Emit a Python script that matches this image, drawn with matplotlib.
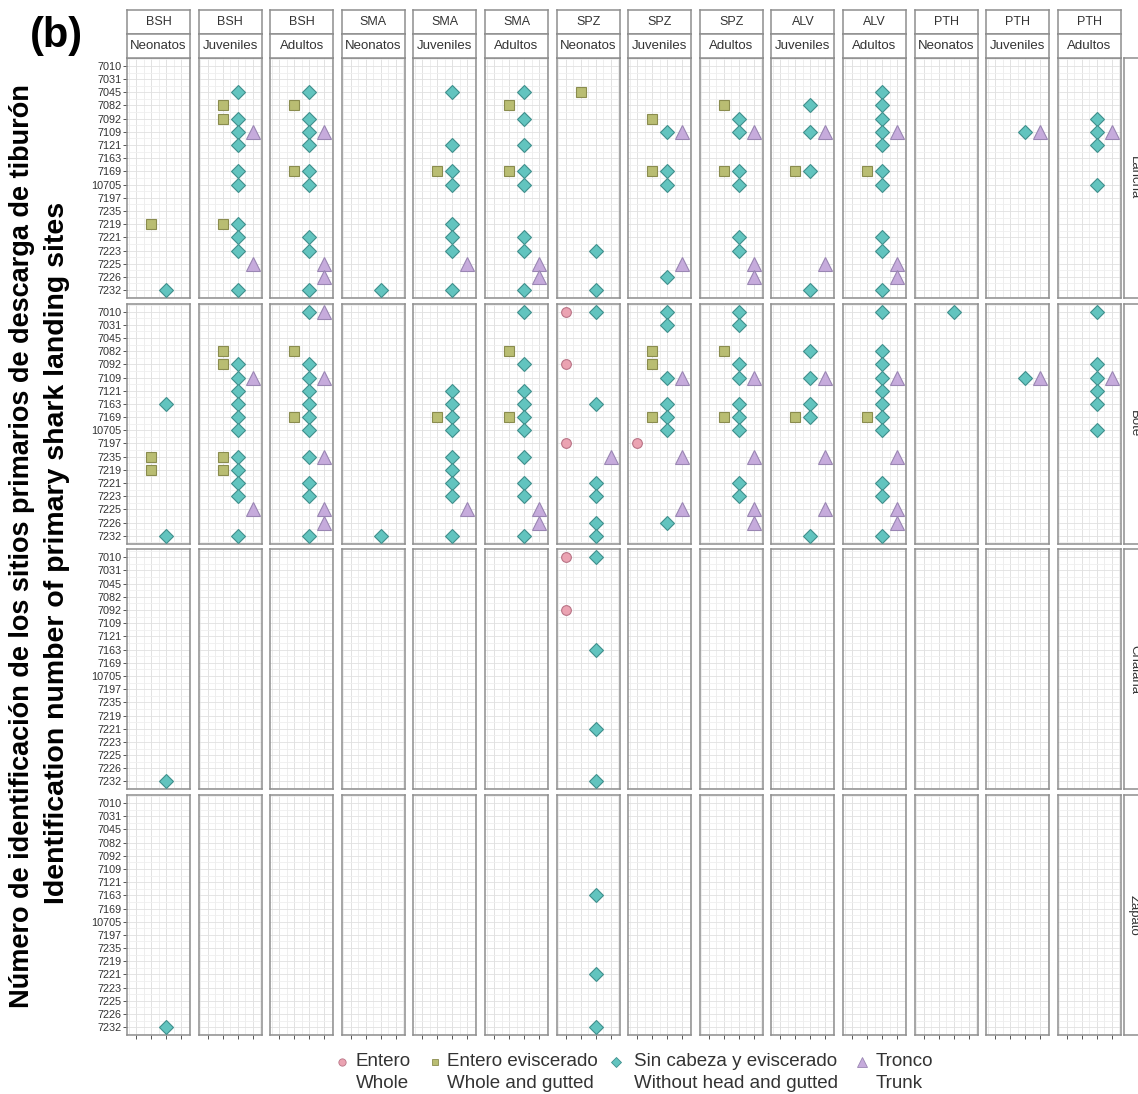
import matplotlib
matplotlib.use("Agg")
import matplotlib.pyplot as plt
import numpy as np

plt.rcParams["font.family"] = ["Liberation Sans", "DejaVu Sans"]

# ---- data ----
SITES = [7010, 7031, 7045, 7082, 7092, 7109, 7121, 7163, 7169, 10705,
         7197, 7235, 7219, 7221, 7223, 7225, 7226, 7232]
SPECIES = ["BSH", "BSH", "BSH", "SMA", "SMA", "SMA", "SPZ", "SPZ", "SPZ",
           "ALV", "ALV", "PTH", "PTH", "PTH"]
STAGES = ["Neonatos", "Juveniles", "Adultos", "Neonatos", "Juveniles", "Adultos",
          "Neonatos", "Juveniles", "Adultos", "Juveniles", "Adultos",
          "Neonatos", "Juveniles", "Adultos"]
FLEETS = ["Lancha", "Bote", "Chalana", "Zapato"]
PRODUCTS = ["E", "EE", "SC", "T"]
PRODUCT_ES = ["Entero", "Entero eviscerado", "Sin cabeza y eviscerado", "Tronco"]
PRODUCT_EN = ["Whole", "Whole and gutted", "Without head and gutted", "Trunk"]

LANCHA = {
    "BSH Neonatos": {"EE": [7219], "SC": [7232]},
    "BSH Juveniles": {"EE": [7082, 7092, 7219],
                      "SC": [7045, 7092, 7109, 7121, 7169, 10705, 7219, 7221, 7223, 7232],
                      "T": [7109, 7225]},
    "BSH Adultos": {"EE": [7082, 7169],
                    "SC": [7045, 7092, 7109, 7121, 7169, 10705, 7221, 7223, 7232],
                    "T": [7109, 7225, 7226]},
    "SMA Neonatos": {"SC": [7232]},
    "SMA Juveniles": {"EE": [7169],
                      "SC": [7045, 7121, 7169, 10705, 7219, 7221, 7223, 7232],
                      "T": [7225]},
    "SMA Adultos": {"EE": [7082, 7169],
                    "SC": [7045, 7092, 7121, 7169, 10705, 7221, 7223, 7232],
                    "T": [7225, 7226]},
    "SPZ Neonatos": {"EE": [7045], "SC": [7223, 7232]},
    "SPZ Juveniles": {"EE": [7092, 7169], "SC": [7109, 7169, 10705, 7226],
                      "T": [7109, 7225]},
    "SPZ Adultos": {"EE": [7082, 7169], "SC": [7092, 7109, 7169, 10705, 7221, 7223],
                    "T": [7109, 7225, 7226]},
    "ALV Juveniles": {"EE": [7169], "SC": [7082, 7109, 7169, 7232], "T": [7109, 7225]},
    "ALV Adultos": {"EE": [7169],
                    "SC": [7045, 7082, 7092, 7109, 7121, 7169, 10705, 7221, 7223, 7232],
                    "T": [7109, 7225, 7226]},
    "PTH Juveniles": {"SC": [7109], "T": [7109]},
    "PTH Adultos": {"SC": [7092, 7109, 7121, 10705], "T": [7109]},
}

BOTE = {
    "BSH Neonatos": {"EE": [7235, 7219], "SC": [7163, 7232]},
    "BSH Juveniles": {"EE": [7082, 7092, 7235, 7219],
                      "SC": [7092, 7109, 7121, 7163, 7169, 10705, 7235, 7219, 7221, 7223, 7232],
                      "T": [7109, 7225]},
    "BSH Adultos": {"EE": [7082, 7169],
                    "SC": [7010, 7092, 7109, 7121, 7163, 7169, 10705, 7235, 7221, 7223, 7232],
                    "T": [7010, 7109, 7235, 7225, 7226]},
    "SMA Neonatos": {"SC": [7232]},
    "SMA Juveniles": {"EE": [7169],
                      "SC": [7121, 7163, 7169, 10705, 7235, 7219, 7221, 7223, 7232],
                      "T": [7225]},
    "SMA Adultos": {"EE": [7082, 7169],
                    "SC": [7010, 7092, 7121, 7163, 7169, 10705, 7235, 7221, 7223, 7232],
                    "T": [7225, 7226]},
    "SPZ Neonatos": {"E": [7010, 7092, 7197],
                     "SC": [7010, 7163, 7221, 7223, 7226, 7232], "T": [7235]},
    "SPZ Juveniles": {"E": [7197], "EE": [7082, 7092, 7169],
                      "SC": [7010, 7031, 7109, 7163, 7169, 10705, 7226],
                      "T": [7109, 7235, 7225]},
    "SPZ Adultos": {"EE": [7082, 7169],
                    "SC": [7010, 7031, 7092, 7109, 7163, 7169, 10705, 7221, 7223],
                    "T": [7109, 7235, 7225, 7226]},
    "ALV Juveniles": {"EE": [7169], "SC": [7082, 7109, 7163, 7169, 7232],
                      "T": [7109, 7235, 7225]},
    "ALV Adultos": {"EE": [7169],
                    "SC": [7010, 7082, 7092, 7109, 7121, 7163, 7169, 10705, 7221, 7223, 7232],
                    "T": [7109, 7235, 7225, 7226]},
    "PTH Neonatos": {"SC": [7010]},
    "PTH Juveniles": {"SC": [7109], "T": [7109]},
    "PTH Adultos": {"SC": [7010, 7092, 7109, 7121, 7163, 10705], "T": [7109]},
}

CHALANA = {
    "BSH Neonatos": {"SC": [7232]},
    "SPZ Neonatos": {"E": [7010, 7092], "SC": [7010, 7163, 7221, 7232]},
}

ZAPATO = {
    "BSH Neonatos": {"SC": [7232]},
    "SPZ Neonatos": {"SC": [7163, 7221, 7232]},
}

FLEET_DATA = [LANCHA, BOTE, CHALANA, ZAPATO]

# ---- styles ----
STYLE = {
    "E": dict(marker="o", ms=7, mfc="#EBA3B2", mec="#B87486"),
    "EE": dict(marker="s", ms=6.5, mfc="#B9BD72", mec="#8A8C4E"),
    "SC": dict(marker="D", ms=6.8, mfc="#62C4BF", mec="#3F8F8C"),
    "T": dict(marker="^", ms=9.5, mfc="#C6ABDC", mec="#9A86B3"),
}
BORDER = "#8E8E8E"
TXT = "#333333"

W, H = 1138, 1094
fig = plt.figure(figsize=(W / 100, H / 100), dpi=100)


def rect(l, t, w, h):
    return [l / W, 1 - (t + h) / H, w / W, h / H]


COL_L0, COL_PITCH, COL_W = 127, 71.6, 63
ROW_T0, ROW_PITCH, ROW_H = 58, 245.7, 240

ny = len(SITES)
for r, fleet in enumerate(FLEETS):
    top = ROW_T0 + r * ROW_PITCH
    for c in range(len(SPECIES)):
        left = COL_L0 + c * COL_PITCH
        ax = fig.add_axes(rect(left, top, COL_W, ROW_H))
        ax.set_xlim(0.4, 4.6)
        ax.set_ylim(ny - 0.4, -0.6)
        # grid
        for v in np.arange(0.5, 5.0, 0.5):
            ax.axvline(v, color="#EBEBEB" if v % 1 else "#DDDDDD", lw=0.6, zorder=0)
        for v in np.arange(-0.5, ny, 0.5):
            ax.axhline(v, color="#EFEFEF" if v % 1 else "#E0E0E0", lw=0.6, zorder=0)
        panel = FLEET_DATA[r].get(f"{SPECIES[c]} {STAGES[c]}", {})
        for k, code in enumerate(PRODUCTS):
            sites = panel.get(code, [])
            if not sites:
                continue
            ys = [SITES.index(s) for s in sites]
            ax.plot([k + 1] * len(ys), ys, ls="none", mew=0.8, zorder=3, **STYLE[code])
        for sp in ax.spines.values():
            sp.set_color(BORDER)
            sp.set_linewidth(1.1)
        ax.tick_params(colors=TXT, length=3, width=0.7, labelsize=7.8, pad=1,
                       color="#555555")
        ax.set_xticks([1, 2, 3, 4])
        ax.set_xticklabels([])
        if r != len(FLEETS) - 1:
            ax.tick_params(axis="x", length=0)
        if c == 0:
            ax.set_yticks(range(ny))
            ax.set_yticklabels([str(s) for s in SITES])
        else:
            ax.set_yticks([])

    # right strip (cut by the figure edge, as in the original)
    sax = fig.add_axes(rect(1124, top, 20, ROW_H))
    sax.set_xticks([]); sax.set_yticks([])
    for sp in sax.spines.values():
        sp.set_color(BORDER); sp.set_linewidth(1.1)
    sax.text(0.5, 0.5, fleet, rotation=-90, ha="center", va="center",
             fontsize=9.5, color=TXT, transform=sax.transAxes)

# top strips
for c in range(len(SPECIES)):
    left = COL_L0 + c * COL_PITCH
    for t, lab, fs in [(10, SPECIES[c], 9), (34, STAGES[c], 9.5)]:
        sax = fig.add_axes(rect(left, t, COL_W, 24))
        sax.set_xticks([]); sax.set_yticks([])
        for sp in sax.spines.values():
            sp.set_color(BORDER); sp.set_linewidth(1.1)
        sax.text(0.5, 0.5, lab, ha="center", va="center", fontsize=fs,
                 color=TXT, transform=sax.transAxes)

# legend drawn on an overlay in pixel units
lax = fig.add_axes([0, 0, 1, 1], zorder=-1)
lax.set_xlim(0, W); lax.set_ylim(H, 0); lax.axis("off")
KEY_X = [342, 435, 616, 862]
TEXT_X = [356, 447, 634, 876]
for code, kx, tx, es, en in zip(PRODUCTS, KEY_X, TEXT_X, PRODUCT_ES, PRODUCT_EN):
    st = dict(STYLE[code]); st["ms"] = st["ms"] * 0.75
    lax.plot([kx], [1062], ls="none", mew=0.6, **st)
    lax.text(tx, 1062, es, ha="left", va="center", fontsize=13.5, color=TXT)
    lax.text(tx, 1084, en, ha="left", va="center", fontsize=13.5, color=TXT)

fig.text(22 / W, 1 - 546 / H,
         "Número de identificación de los sitios primarios de descarga de tiburón",
         rotation=90, ha="center", va="center", fontsize=19.5, fontweight="bold")
fig.text(57 / W, 1 - 553 / H, "Identification number of primary shark landing sites",
         rotation=90, ha="center", va="center", fontsize=20.5, fontweight="bold")
fig.text(30 / W, 1 - 36 / H, "(b)", ha="left", va="center", fontsize=30,
         fontweight="bold")

fig.savefig("out.png", dpi=100)
